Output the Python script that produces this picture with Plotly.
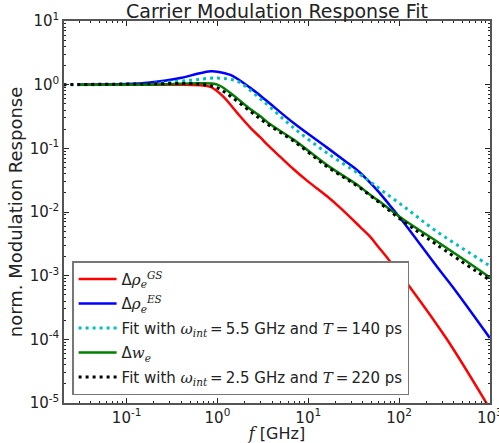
import plotly.graph_objects as go

# ---- data (frequency in GHz, normalized response) ----
f_gs = [0.03, 0.1, 0.18, 0.35, 0.65, 0.84, 1.16, 1.65, 2.31, 2.97, 3.64, 5.0, 6.9, 10, 16, 22.4, 37, 48, 59, 79, 132, 334, 881, 1000]
y_gs = [1.0, 1.0, 1.0, 1.0, 0.98, 0.92, 0.65, 0.36, 0.21, 0.148, 0.11, 0.072, 0.047, 0.030, 0.0178, 0.0117, 0.0059, 0.0041, 0.00285, 0.0017, 0.00066, 0.000102, 1.1e-5, 8.1e-6]

f_es = [0.03, 0.1, 0.18, 0.39, 0.6, 0.84, 1.0, 1.39, 2.3, 3.37, 6.9, 16, 25, 31.6, 37, 48, 59, 79, 112, 257, 427, 1000]
y_es = [1.0, 1.02, 1.08, 1.27, 1.48, 1.62, 1.6, 1.42, 0.89, 0.58, 0.25, 0.1035, 0.0646, 0.0505, 0.0418, 0.029, 0.0211, 0.0128, 0.0069, 0.00143, 0.00056, 1.05e-4]

f_fit1 = [0.02, 0.1, 0.18, 0.5, 1.0, 1.65, 2.31, 2.97, 3.64, 6.9, 16, 37, 48, 59, 112, 257, 955, 1000]
y_fit1 = [1.0, 1.01, 1.04, 1.17, 1.27, 1.13, 0.81, 0.60, 0.47, 0.21, 0.085, 0.039, 0.030, 0.024, 0.0123, 0.0050, 0.00148, 0.0014]

f_w = [0.03, 0.18, 0.4, 0.65, 1.0, 1.39, 2.31, 2.97, 3.64, 6.9, 16, 37, 48, 59, 112, 257, 955, 1000]
y_w = [1.0, 1.0, 1.03, 1.05, 1.0, 0.74, 0.41, 0.32, 0.25, 0.137, 0.055, 0.025, 0.0186, 0.0151, 0.0076, 0.0035, 0.00098, 0.00093]

f_fit2 = [0.02, 0.18, 0.5, 0.75, 1.0, 1.39, 2.31, 3.64, 6.9, 16, 37, 112, 257, 1000]
y_fit2 = [1.0, 1.03, 1.04, 0.99, 0.89, 0.66, 0.38, 0.235, 0.13, 0.052, 0.024, 0.0071, 0.0031, 0.00085]

x_ticks = [0.1, 1, 10, 100, 1000]
x_ticktext = ["10<sup>-1</sup>", "10<sup>0</sup>", "10<sup>1</sup>", "10<sup>2</sup>", "10<sup>3</sup>"]
y_ticks = [1e-5, 1e-4, 1e-3, 1e-2, 1e-1, 1, 10]
y_ticktext = ["10<sup>-5</sup>", "10<sup>-4</sup>", "10<sup>-3</sup>", "10<sup>-2</sup>", "10<sup>-1</sup>", "10<sup>0</sup>", "10<sup>1</sup>"]

MATH = "font-family:'DejaVu Serif','Liberation Serif',serif;font-style:italic"
TS = "\u2009"
names = [
    "Δ<span style=\"%s\">ρ<sub>e</sub><sup>GS</sup></span>" % MATH,
    "Δ<span style=\"%s\">ρ<sub>e</sub><sup>ES</sup></span>" % MATH,
    "Fit with <span style=\"%s\">ω<sub>int</sub></span>%s=%s5.5 GHz and <span style=\"%s\">T</span>%s=%s140 ps" % (MATH, TS, TS, MATH, TS, TS),
    "Δ<span style=\"%s\">w<sub>e</sub></span>" % MATH,
    "Fit with <span style=\"%s\">ω<sub>int</sub></span>%s=%s2.5 GHz and <span style=\"%s\">T</span>%s=%s220 ps" % (MATH, TS, TS, MATH, TS, TS),
]

SM = 1.0
fig = go.Figure()
fig.add_trace(go.Scatter(x=f_gs, y=y_gs, mode="lines", name=names[0], legendgroup="a",
                         line=dict(color="#ff0000", width=2.5, shape="spline", smoothing=SM)))
fig.add_trace(go.Scatter(x=f_es, y=y_es, mode="lines", name=names[1], legendgroup="b",
                         line=dict(color="#0000ff", width=2.5, shape="spline", smoothing=SM)))
fig.add_trace(go.Scatter(x=f_fit1, y=y_fit1, mode="lines", name=names[2], legendgroup="c",
                         line=dict(color="#00bfbf", width=3, dash="3px,4px", shape="spline", smoothing=SM)))
fig.add_trace(go.Scatter(x=f_w, y=y_w, mode="lines", name=names[3], legendgroup="d",
                         line=dict(color="#008000", width=2.5, shape="spline", smoothing=SM)))
fig.add_trace(go.Scatter(x=f_fit2, y=y_fit2, mode="lines", name=names[4], legendgroup="e",
                         line=dict(color="#000000", width=3, dash="3px,4px", shape="spline", smoothing=SM)))

minor_x = [m * 10 ** e for e in range(-2, 3) for m in range(2, 10)]
minor_y = [m * 10 ** e for e in range(-5, 1) for m in range(2, 10)]

axis_common = dict(type="log", showgrid=False, zeroline=False, showline=True,
                   linecolor="#555555", linewidth=1.5, mirror="allticks",
                   ticks="inside", ticklen=5, tickwidth=1, tickcolor="#222222",
                   ticklabeloverflow="allow", automargin=False,
                   tickfont=dict(family="DejaVu Sans", size=15, color="#222222"))

fig.update_xaxes(**axis_common, range=[-1.69, 3.002], tickmode="array", tickvals=x_ticks, ticktext=x_ticktext,
                 minor=dict(tickmode="array", tickvals=minor_x, ticks="inside", ticklen=2, tickcolor="#222222"),
                 title=dict(text="<span style=\"%s\">f</span> [GHz]" % MATH, standoff=4,
                            font=dict(family="DejaVu Sans", size=16, color="#222222")))
fig.update_yaxes(**axis_common, range=[-5, 1], tickmode="array", tickvals=y_ticks, ticktext=y_ticktext,
                 minor=dict(tickmode="array", tickvals=minor_y, ticks="inside", ticklen=2, tickcolor="#222222"),
                 title=dict(text="norm. Modulation Response", standoff=2,
                            font=dict(family="DejaVu Sans", size=18, color="#222222")))

fig.update_layout(
    width=499, height=443,
    margin=dict(l=64, r=9, t=21, b=40, autoexpand=False),
    paper_bgcolor="white", plot_bgcolor="white",
    title=dict(text="Carrier Modulation Response Fit", x=0.5, xref="paper", xanchor="center",
               y=0.975, yref="container", yanchor="middle",
               font=dict(family="DejaVu Sans", size=19, color="#222222")),
    showlegend=True,
    legend=dict(x=0.019, y=0.02, xanchor="left", yanchor="bottom",
                bgcolor="white", bordercolor="#777777", borderwidth=1.5,
                font=dict(family="DejaVu Sans", size=15, color="#222222"),
                itemwidth=38, tracegroupgap=2),
)

fig.write_html("out.html")
